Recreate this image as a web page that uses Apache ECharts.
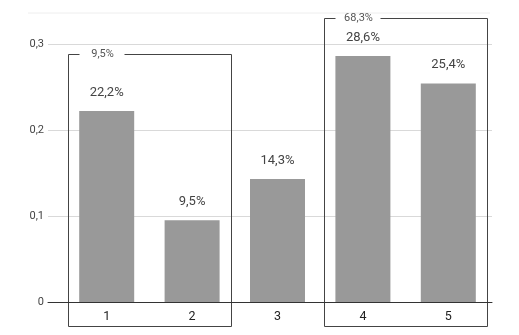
<!DOCTYPE html>
<html><head><meta charset="utf-8">
<script src="https://cdn.jsdelivr.net/npm/echarts@6/dist/echarts.min.js"></script>
<style>html,body{margin:0;padding:0;background:#fff}#c{width:519px;height:335px}</style>
</head><body><div id="c"></div>
<script>
var categories = ['1', '2', '3', '4', '5'];
var values = [0.222, 0.095, 0.143, 0.286, 0.254];
var valueLabels = ['22,2%', '9,5%', '14,3%', '28,6%', '25,4%'];
var yTicks = [0, 0.1, 0.2, 0.3];
var groupFrom = [0, 3];
var groupTo = [1, 4];
var groupTop = [0.288, 0.330];
var groupLabels = ['9,5%', '68,3%'];

var chart = echarts.init(document.getElementById('c'));
var font = 'Roboto, "Noto Sans", sans-serif';
var option = {
  animation: false,
  backgroundColor: '#fff',
  grid: [
    {left: 48, right: 27, top: 44, bottom: 33},
    {left: 64, right: 28, top: 44, bottom: 33}
  ],
  xAxis: [
    {gridIndex: 0, type: 'category', data: categories, axisLabel: {show: false}, axisTick: {show: false},
     axisLine: {show: true, lineStyle: {color: '#333', width: 1}}},
    {gridIndex: 1, type: 'category', data: categories, axisTick: {show: false},
     axisLine: {show: false},
     axisLabel: {color: '#222', fontSize: 12.5, fontFamily: font, margin: 8}}
  ],
  yAxis: [
    {gridIndex: 0, type: 'value', min: yTicks[0], max: yTicks[yTicks.length - 1], interval: 0.1,
     axisLine: {show: false}, axisTick: {show: false},
     splitLine: {lineStyle: {color: '#d9d9d9', width: 1}},
     axisLabel: {color: '#444', fontSize: 11, fontFamily: font, margin: 4,
       formatter: function (v) { return v === 0 ? '0' : String(Math.round(v * 10) / 10).replace('.', ','); }}},
    {gridIndex: 1, type: 'value', min: yTicks[0], max: yTicks[yTicks.length - 1], interval: 0.1, show: false,
     splitLine: {show: false}}
  ],
  series: [{
    type: 'bar', xAxisIndex: 1, yAxisIndex: 1, data: values, barWidth: 55,
    itemStyle: {color: '#999999'},
    label: {show: true, position: 'top', distance: 12, color: '#444', fontSize: 13, fontFamily: font,
      formatter: function (p) { return valueLabels[p.dataIndex]; }}
  }]
};
chart.setOption(option);

function px(ci, v) { return chart.convertToPixel({xAxisIndex: 1, yAxisIndex: 1}, [ci, v]); }
var step = px(1, 0)[0] - px(0, 0)[0];
var half = step * 0.45;
var bottomY = px(0, -0.028)[1];
var graphics = [];
var topLineY = px(0, 0.336)[1];
graphics.push({type: 'line', shape: {x1: 28, y1: topLineY, x2: 490, y2: topLineY}, style: {stroke: '#eeeeee', lineWidth: 1}, silent: true});
for (var i = 0; i < groupFrom.length; i++) {
  var l = Math.round(px(groupFrom[i], 0)[0] - half) + 0.5;
  var r = Math.round(px(groupTo[i], 0)[0] + half) + 0.5;
  var t = Math.round(px(0, groupTop[i])[1]) + 0.5;
  var b = Math.round(bottomY) + 0.5;
  graphics.push({type: 'polyline', shape: {points: [[l + 11, t], [l, t], [l, b], [r, b], [r, t], [l + 56, t]]},
    style: {stroke: '#444', lineWidth: 1, fill: null}, silent: true});
  graphics.push({type: 'text', x: l + 34, y: t, style: {text: groupLabels[i], fill: '#555', fontSize: 11, fontFamily: font,
    align: 'center', verticalAlign: 'middle'}, silent: true});
}
chart.setOption({graphic: graphics});
</script>
</body></html>
